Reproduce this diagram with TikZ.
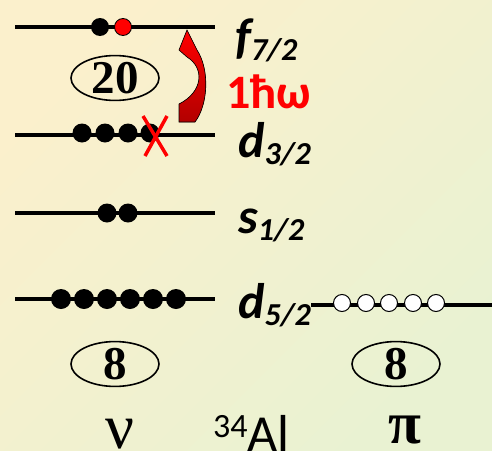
\documentclass[tikz,border=0pt]{standalone}
\usepackage{fontspec}
\setmainfont{Liberation Serif}
\newfontfamily\calibfont{Carlito}
\usetikzlibrary{shapes.geometric}
\definecolor{bgcream}{HTML}{FBF0CC}
\definecolor{bggreen}{HTML}{E9F2D2}
\newcommand{\lvsub}[1]{\raisebox{-7pt}{\fontsize{32}{32}\selectfont #1}}

\begin{document}
\begin{tikzpicture}[x=1pt, y=-1pt,
    level/.style={line width=3.5pt},
    nucl/.style={fill=black},
    hole/.style={draw=black, fill=white, line width=1pt},
    ring/.style={ellipse, draw, line width=1.6pt, minimum width=88pt, minimum height=41pt, inner sep=0pt, font=\fontsize{47}{47}\selectfont\bfseries},
    lbl/.style={anchor=base west, inner sep=0pt, font=\calibfont\fontsize{50}{50}\selectfont\bfseries\itshape}]
    \clip (0,0) rectangle (492,450);
    \shade[top color=bgcream, bottom color=bggreen, shading angle=45] (0,0) rectangle (492,450);

    % нейтронные уровни
    \draw[level] (15,27) -- (215,27);
    \draw[level] (15,135) -- (215,135);
    \draw[level] (15,213) -- (215,213);
    \draw[level] (15,299) -- (215,299);

    % нуклоны
    \fill[nucl] (100,27) circle (9pt);
    \filldraw[fill=red, draw=black, line width=0.8pt] (123,27) circle (8.5pt);
    \foreach \x in {82,105,128,150}
        \fill[nucl] (\x,133) circle (9.5pt);
    \foreach \x in {107,128}
        \fill[nucl] (\x,213) circle (9.5pt);
    \foreach \x in {61,84,107,130,153,176}
        \fill[nucl] (\x,299) circle (10pt);

    % крест
    \draw[red, line width=3.5pt] (143,116) -- (167,156);
    \draw[red, line width=3.5pt] (167,116) -- (145,156);

    % переход 1hw
    \filldraw[draw=black, line width=0.6pt, top color=red, bottom color=red!70!black]
        (187,30) -- (179,50) -- (187,57) .. controls (205,68) and (203,92) .. (179,104)
        -- (179,122) -- (195,122) .. controls (208,105) and (210,70) .. (197,50) -- cycle;
    \node[red, anchor=base west, inner sep=0pt, font=\calibfont\fontsize{48}{48}\selectfont\bfseries] (hw) at (226,108) {1ħω};

    % магические числа
    \node[ring] (n20) at (115,78) {20};
    \node[ring] (n8) at (115,364) {8};
    \node[ring] (p8) at (396,364) {8};

    % подписи уровней
    \node[lbl] (f72) at (235,53) {f\lvsub{7/2}};
    \node[lbl] (d32) at (238,157) {d\lvsub{3/2}};
    \node[lbl] (s12) at (238,233) {s\lvsub{1/2}};
    \node[lbl] (d52) at (238,318) {d\lvsub{5/2}};

    % протонный уровень
    \coordinate (pend) at (492,305);
    \draw[level] (d52.east |- pend) -- (pend);
    \foreach \x in {342,366,389,413,436}
        \filldraw[hole] (\x,303) circle (8.5pt);

    % нижние подписи
    \node[anchor=base, inner sep=0pt, font=\fontsize{64}{64}\selectfont] (nu) at (120,448) {ν};
    \node[anchor=base west, inner sep=0pt, font=\calibfont\fontsize{52}{52}\selectfont] (al) at (213,451) {\raisebox{14pt}{\fontsize{34}{34}\selectfont 34}Al};
    \node[anchor=base, inner sep=0pt, font=\fontsize{60}{60}\selectfont\bfseries] (pi) at (405,443) {π};
\end{tikzpicture}
\end{document}
